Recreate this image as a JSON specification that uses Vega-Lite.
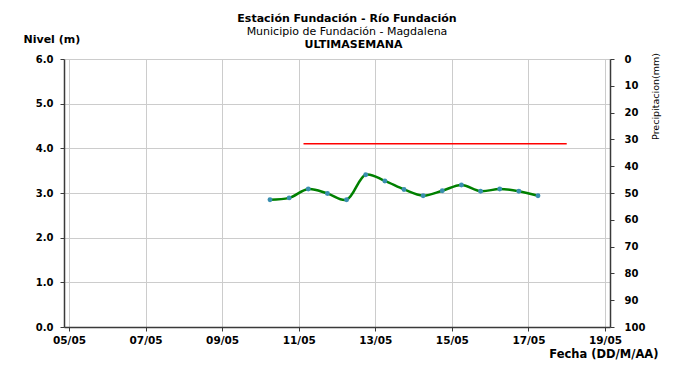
{
  "$schema": "https://vega.github.io/schema/vega-lite/v6.json",
  "autosize": {"type": "none"},
  "padding": {"left": 64, "top": 59, "right": 69, "bottom": 42},
  "width": 546,
  "height": 268,
  "background": "white",
  "config": {
    "font": "DejaVu Sans",
    "view": {"stroke": null},
    "axis": {"labelFont": "DejaVu Sans", "titleFont": "DejaVu Sans", "labelColor": "black", "titleColor": "black"}
  },
  "title": {
    "text": "Estación Fundación - Río Fundación",
    "subtitle": "Municipio de Fundación - Magdalena",
    "font": "DejaVu Sans",
    "fontSize": 11,
    "fontWeight": "bold",
    "color": "black",
    "subtitleFont": "DejaVu Sans",
    "subtitleFontSize": 11,
    "subtitleFontWeight": "normal",
    "subtitleColor": "black",
    "subtitlePadding": 2,
    "anchor": "middle",
    "dx": 10,
    "offset": -3.5
  },
  "datasets": {
    "nivel": [
      {"fecha": "2020-05-10T06:00:00Z", "nivel": 2.85},
      {"fecha": "2020-05-10T18:00:00Z", "nivel": 2.89},
      {"fecha": "2020-05-11T06:00:00Z", "nivel": 3.09},
      {"fecha": "2020-05-11T18:00:00Z", "nivel": 2.99},
      {"fecha": "2020-05-12T06:00:00Z", "nivel": 2.85},
      {"fecha": "2020-05-12T18:00:00Z", "nivel": 3.41},
      {"fecha": "2020-05-13T06:00:00Z", "nivel": 3.27},
      {"fecha": "2020-05-13T18:00:00Z", "nivel": 3.08},
      {"fecha": "2020-05-14T06:00:00Z", "nivel": 2.94},
      {"fecha": "2020-05-14T18:00:00Z", "nivel": 3.05},
      {"fecha": "2020-05-15T06:00:00Z", "nivel": 3.18},
      {"fecha": "2020-05-15T18:00:00Z", "nivel": 3.04},
      {"fecha": "2020-05-16T06:00:00Z", "nivel": 3.09},
      {"fecha": "2020-05-16T18:00:00Z", "nivel": 3.04},
      {"fecha": "2020-05-17T06:00:00Z", "nivel": 2.94}
    ],
    "umbral": [
      {"fecha": "2020-05-11T03:00:00Z", "umbral": 4.1},
      {"fecha": "2020-05-18T00:00:00Z", "umbral": 4.1}
    ],
    "precip": []
  },
  "layer": [
    {
      "layer": [
        {
          "data": {"name": "umbral"},
          "mark": {"type": "line", "color": "#ff0000", "strokeWidth": 1.5},
          "encoding": {
            "x": {
              "field": "fecha", "type": "temporal",
              "scale": {"type": "utc", "domain": [{"year": 2020, "month": 5, "date": 5, "utc": true}, {"year": 2020, "month": 5, "date": 19, "utc": true}]},
              "axis": {
                "orient": "bottom",
                "values": [
                  {"year": 2020, "month": 5, "date": 5, "utc": true},
                  {"year": 2020, "month": 5, "date": 7, "utc": true},
                  {"year": 2020, "month": 5, "date": 9, "utc": true},
                  {"year": 2020, "month": 5, "date": 11, "utc": true},
                  {"year": 2020, "month": 5, "date": 13, "utc": true},
                  {"year": 2020, "month": 5, "date": 15, "utc": true},
                  {"year": 2020, "month": 5, "date": 17, "utc": true},
                  {"year": 2020, "month": 5, "date": 19, "utc": true}
                ],
                "labelExpr": "utcFormat(datum.value, '%d/%m')",
                "labelFontSize": 10.5,
                "labelFontWeight": "bold",
                "labelPadding": 4,
                "labelFlush": false,
                "grid": true,
                "gridColor": "#cccccc",
                "domainColor": "#3a3a3a",
                "domainWidth": 1.5,
                "tickColor": "#3a3a3a",
                "tickSize": 4,
                "title": "Fecha (DD/M/AA)",
                "titleFontSize": 11.5,
                "titleFontWeight": "bold",
                "titleAlign": "right",
                "titleBaseline": "alphabetic",
                "titleAnchor": null,
                "titleX": 594,
                "titleY": 30
              }
            },
            "y": {
              "field": "umbral", "type": "quantitative",
              "scale": {"domain": [0, 6]},
              "axis": {
                "orient": "left",
                "values": [0, 1, 2, 3, 4, 5, 6],
                "format": ".1f",
                "labelFontSize": 10,
                "labelFontWeight": "bold",
                "labelPadding": 7,
                "grid": true,
                "gridColor": "#cccccc",
                "domainColor": "#3a3a3a",
                "domainWidth": 1.5,
                "tickColor": "#3a3a3a",
                "tickSize": 4,
                "title": "Nivel (m)",
                "titleFontSize": 11,
                "titleFontWeight": "bold",
                "titleAngle": 0,
                "titleAlign": "left",
                "titleBaseline": "alphabetic",
                "titleAnchor": null,
                "titleX": -41,
                "titleY": -17
              }
            }
          }
        },
        {
          "data": {"name": "nivel"},
          "mark": {"type": "line", "color": "#008000", "strokeWidth": 2.5, "interpolate": "catmull-rom"},
          "encoding": {
            "x": {"field": "fecha", "type": "temporal"},
            "y": {"field": "nivel", "type": "quantitative"}
          }
        },
        {
          "data": {"name": "nivel"},
          "mark": {"type": "circle", "color": "#3a8fb0", "size": 24, "opacity": 1},
          "encoding": {
            "x": {"field": "fecha", "type": "temporal"},
            "y": {"field": "nivel", "type": "quantitative"}
          }
        }
      ]
    },
    {
      "data": {"name": "precip"},
      "mark": {"type": "bar", "color": "#4a6fa5"},
      "encoding": {
        "x": {
          "field": "fecha", "type": "temporal",
          "axis": {
            "orient": "top",
            "labels": false,
            "ticks": false,
            "domain": false,
            "grid": false,
            "title": "ULTIMASEMANA",
            "titleFont": "DejaVu Sans",
            "titleFontSize": 11,
            "titleFontWeight": "bold",
            "titlePadding": 10,
            "titleX": 289,
            "titleAlign": "center"
          }
        },
        "y": {
          "field": "precip", "type": "quantitative",
          "scale": {"domain": [0, 100], "reverse": true},
          "axis": {
            "orient": "right",
            "values": [0, 10, 20, 30, 40, 50, 60, 70, 80, 90, 100],
            "labelFontSize": 10,
            "labelFontWeight": "bold",
            "labelPadding": 10,
            "grid": false,
            "domainColor": "#3a3a3a",
            "domainWidth": 1.5,
            "tickColor": "#3a3a3a",
            "tickSize": 4,
            "title": "Precipitacion(mm)",
            "titleFontSize": 9.5,
            "titleFontWeight": "normal",
            "titleAngle": -90,
            "titleAlign": "center",
            "titleBaseline": "middle",
            "titleAnchor": null,
            "titleX": 45,
            "titleY": 37
          }
        }
      }
    }
  ],
  "resolve": {"scale": {"y": "independent"}, "axis": {"x": "independent"}}
}
